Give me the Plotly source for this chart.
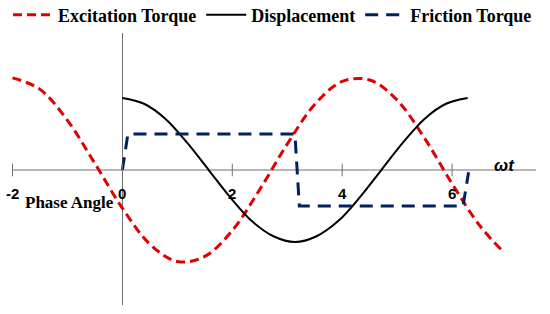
import plotly.graph_objects as go

# values (x in rad, y scaled so displacement amplitude = 1)
exc_x = [-2.0, -1.5, -1.0, -0.5, 0.0, 0.5, 1.0, 1.5, 2.0, 2.5, 3.0, 3.5, 4.0, 4.5, 5.0, 5.5, 6.0, 6.5, 6.9]
exc_y = [1.28, 1.12, 0.69, 0.09, -0.53, -1.03, -1.27, -1.20, -0.84, -0.27, 0.36, 0.91, 1.23, 1.25, 0.97, 0.44, -0.19, -0.77, -1.11]

disp_x = [0.0, 0.393, 0.785, 1.178, 1.571, 1.963, 2.356, 2.749, 3.142, 3.534, 3.927, 4.320, 4.712, 5.105, 5.498, 5.890, 6.283]
disp_y = [1.0, 0.92, 0.71, 0.38, 0.0, -0.38, -0.71, -0.92, -1.0, -0.92, -0.71, -0.38, 0.0, 0.38, 0.71, 0.92, 1.0]

fric_x = [0.0, 0.1, 3.14, 3.22, 6.2, 6.3]
fric_y = [0.0, 0.5, 0.5, -0.5, -0.5, -0.03]

tick_vals = [-2, 0, 2, 4, 6]
tick_text = ["-2", "0", "2", "4", "6"]

serif = "Liberation Serif"
sans = "Liberation Sans"
axis_col = "#707070"

fig = go.Figure()
fig.add_trace(go.Scatter(x=exc_x, y=exc_y, mode="lines", name="Excitation Torque",
                         line=dict(color="#E00000", width=3, dash="9px,5px", shape="spline")))
fig.add_trace(go.Scatter(x=disp_x, y=disp_y, mode="lines", name="Displacement",
                         line=dict(color="black", width=2, shape="spline")))
fig.add_trace(go.Scatter(x=fric_x, y=fric_y, mode="lines", name="Friction Torque",
                         line=dict(color="#002060", width=3, dash="13px,8px")))
# tick marks on the horizontal axis
fig.add_trace(go.Scatter(x=tick_vals, y=[0] * len(tick_vals), mode="markers", showlegend=False,
                         hoverinfo="skip",
                         marker=dict(symbol="line-ns-open", size=9, color=axis_col,
                                     line=dict(color=axis_col, width=1))))

# horizontal axis line
fig.add_shape(type="line", x0=-2, x1=7.53, y0=0, y1=0, xref="x", yref="y",
              line=dict(color=axis_col, width=1), layer="below")

for v, t in zip(tick_vals, tick_text):
    fig.add_annotation(x=v, y=0, text=f"<b>{t}</b>", showarrow=False, yshift=-23,
                       font=dict(family=sans, size=15, color="black"))

fig.add_annotation(x=-0.96, y=0, text="<b>Phase Angle</b>", showarrow=False, yshift=-32,
                   font=dict(family=serif, size=17, color="black"))
fig.add_annotation(x=6.95, y=0, text="<b><i>ωt</i></b>", showarrow=False, yshift=5,
                   font=dict(family=sans, size=17, color="black"))

fig.update_layout(
    width=550, height=314,
    margin=dict(l=7, r=10, t=33, b=9, autoexpand=False),
    paper_bgcolor="white", plot_bgcolor="white",
    xaxis=dict(range=[-2.1, 7.6], showgrid=False, showticklabels=False, ticks="",
               zeroline=True, zerolinecolor=axis_col, zerolinewidth=1, showline=False),
    yaxis=dict(range=[-1.875, 1.903], showgrid=False, showticklabels=False, ticks="",
               zeroline=False, showline=False),
    legend=dict(orientation="h", xref="container", yref="container", x=0.0145, y=0.952,
                xanchor="left", yanchor="middle",
                font=dict(family=serif, size=18, color="black", weight="bold"),
                itemwidth=40, tracegroupgap=0, bgcolor="rgba(0,0,0,0)"),
    showlegend=True,
)

# the page body has a default 8px margin; drop it so the figure fills the window
fig.write_html("out.html", config={"displayModeBar": False},
               post_script="document.body.style.margin='0';")
